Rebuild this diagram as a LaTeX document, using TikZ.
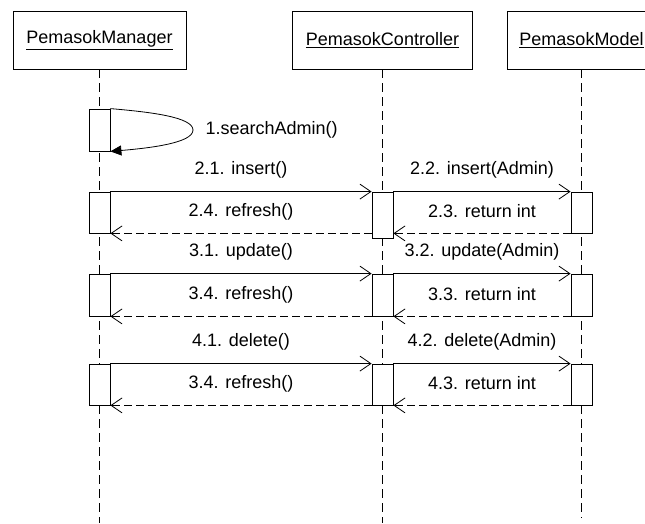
\documentclass[tikz,border=0pt]{standalone}
\usepackage{fontspec}
\setmainfont{Liberation Sans}
\usetikzlibrary{arrows.meta,positioning}

\begin{document}
\begin{tikzpicture}[x=1pt,y=-1pt,
    every node/.style={font=\fontsize{18}{22}\selectfont},
    obj/.style={draw,line width=0.8pt,minimum height=58pt,inner sep=0pt},
    act/.style={draw,fill=white,line width=0.8pt,minimum width=21pt,inner sep=0pt},
    life/.style={line width=0.8pt,dash pattern=on 9pt off 5pt},
    msg/.style={line width=0.8pt,-{Straight Barb[length=11pt,width=15pt]}},
    ret/.style={msg,dash pattern=on 8pt off 4pt},
    selfmsg/.style={line width=0.8pt,-{Triangle[length=11pt,width=10pt]}},
    lbl/.style={midway,yshift=22pt,inner sep=0pt}]
    \useasboundingbox (0,0) rectangle (645,523);
    % objects
    \node[obj,minimum width=173pt] (mgr) at (99.5,40) {\underline{PemasokManager}};
    \node[obj,minimum width=180pt] (ctrl) at (382.5,40) {\underline{PemasokController}};
    \node[obj,minimum width=149pt] (mdl) at (581.5,40) {\underline{PemasokModel}};
    % lifelines
    \coordinate (mgrend) at (99.5,523);
    \coordinate (ctrlend) at (382.5,523);
    \coordinate (mdlend) at (581.5,518);
    \draw[life] (mgr) -- (mgrend);
    \draw[life] (ctrl) -- (ctrlend);
    \draw[life] (mdl) -- (mdlend);
    % activations
    \node[act,minimum height=42pt] (m0) at (99.5,130) {};
    \node[act,minimum height=41pt] (m1) at (99.5,212.5) {};
    \node[act,minimum height=46pt] (c1) at (382.5,215) {};
    \node[act,minimum height=41pt] (d1) at (581.5,212.5) {};
    \node[act,minimum height=42pt] (m2) at (99.5,295) {};
    \node[act,minimum height=42pt] (c2) at (382.5,295) {};
    \node[act,minimum height=42pt] (d2) at (581.5,295) {};
    \node[act,minimum height=41pt] (m3) at (99.5,384.5) {};
    \node[act,minimum height=41pt] (c3) at (382.5,384.5) {};
    \node[act,minimum height=41pt] (d3) at (581.5,384.5) {};
    % 1. search
    \draw[selfmsg] (m0.north east) .. controls (150,112) and (193,117) .. (193,130)
        .. controls (193,143) and (150,148) .. (m0.south east);
    \node[inner sep=0pt,anchor=west,right=95pt of m0.east] (t1) {1.searchAdmin()};
    % 2. insert
    \draw[msg] (m1.north east) -- node[lbl] (t21) {2.1. insert()} (c1.north west);
    \draw[msg] (c1.north east) -- node[lbl] (t22) {2.2. insert(Admin)} (d1.north west);
    \draw[ret] (d1.south west) -- node[lbl] (t23) {2.3. return int} (d1.south west -| c1.east);
    \draw[ret] (m1.south east -| c1.west) -- node[lbl] (t24) {2.4. refresh()} (m1.south east);
    % 3. update
    \draw[msg] (m2.north east) -- node[lbl] (t31) {3.1. update()} (c2.north west);
    \draw[msg] (c2.north east) -- node[lbl] (t32) {3.2. update(Admin)} (d2.north west);
    \draw[ret] (d2.south west) -- node[lbl] (t33) {3.3. return int} (c2.south east);
    \draw[ret] (c2.south west) -- node[lbl] (t34) {3.4. refresh()} (m2.south east);
    % 4. delete
    \draw[msg] (m3.north east) -- node[lbl] (t41) {4.1. delete()} (c3.north west);
    \draw[msg] (c3.north east) -- node[lbl] (t42) {4.2. delete(Admin)} (d3.north west);
    \draw[ret] (d3.south west) -- node[lbl] (t43) {4.3. return int} (c3.south east);
    \draw[ret] (c3.south west) -- node[lbl] (t44) {3.4. refresh()} (m3.south east);
\end{tikzpicture}
\end{document}
